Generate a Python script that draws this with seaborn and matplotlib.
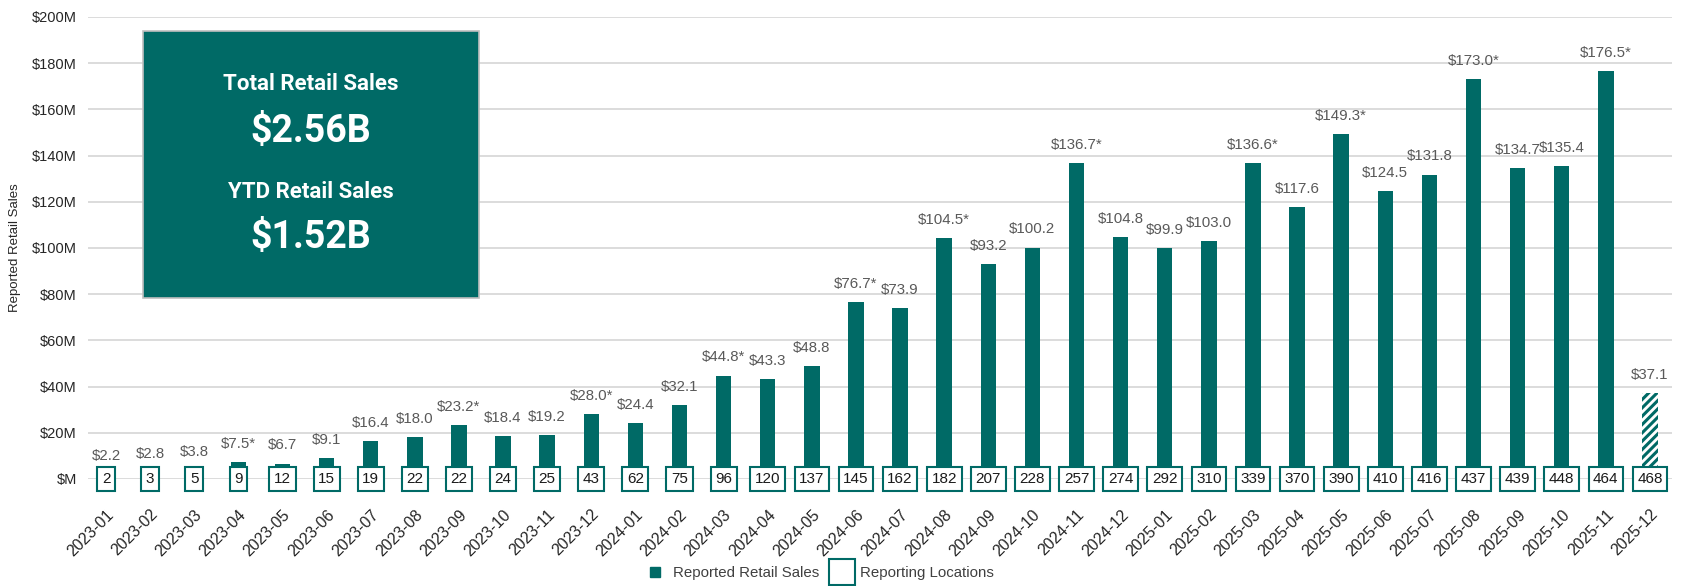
import matplotlib
matplotlib.use("Agg")
import matplotlib.pyplot as plt
import seaborn as sns
import pandas as pd
from matplotlib.lines import Line2D
from matplotlib.patches import Rectangle

months = ["2023-01", "2023-02", "2023-03", "2023-04", "2023-05", "2023-06",
          "2023-07", "2023-08", "2023-09", "2023-10", "2023-11", "2023-12",
          "2024-01", "2024-02", "2024-03", "2024-04", "2024-05", "2024-06",
          "2024-07", "2024-08", "2024-09", "2024-10", "2024-11", "2024-12",
          "2025-01", "2025-02", "2025-03", "2025-04", "2025-05", "2025-06",
          "2025-07", "2025-08", "2025-09", "2025-10", "2025-11", "2025-12"]
sales_m = [2.2, 2.8, 3.8, 7.5, 6.7, 9.1, 16.4, 18.0, 23.2, 18.4, 19.2, 28.0,
           24.4, 32.1, 44.8, 43.3, 48.8, 76.7, 73.9, 104.5, 93.2, 100.2, 136.7, 104.8,
           99.9, 103.0, 136.6, 117.6, 149.3, 124.5, 131.8, 173.0, 134.7, 135.4, 176.5, 37.1]
flagged = ["2023-04", "2023-09", "2023-12", "2024-03", "2024-06", "2024-08",
           "2024-11", "2025-03", "2025-05", "2025-08", "2025-11"]
locations = [2, 3, 5, 9, 12, 15, 19, 22, 22, 24, 25, 43, 62, 75, 96, 120, 137, 145,
             162, 182, 207, 228, 257, 274, 292, 310, 339, 370, 390, 410, 416, 437,
             439, 448, 464, 468]
partial_month = "2025-12"
y_ticks = [0, 20, 40, 60, 80, 100, 120, 140, 160, 180, 200]
summary_lines = ["Total Retail Sales", "$2.56B", "YTD Retail Sales", "$1.52B"]

TEAL = "#006A66"
GRID = "#D9D9D9"
LABEL_GRAY = "#595959"

sns.set_style("white")
plt.rcParams["font.family"] = ["Liberation Sans", "DejaVu Sans"]
plt.rcParams["hatch.linewidth"] = 2.2

df = pd.DataFrame({"month": months, "sales": sales_m, "locations": locations})

fig = plt.figure(figsize=(16.85, 5.86), dpi=100)
ax = fig.add_axes([0.0522, 0.1826, 0.9401, 0.7884])

sns.barplot(data=df, x="month", y="sales", color=TEAL, saturation=1,
            width=0.35, ax=ax, zorder=2)

for patch, m in zip(ax.patches, months):
    patch.set_linewidth(0)
    if m == partial_month:
        patch.set_facecolor("white")
        patch.set_edgecolor(TEAL)
        patch.set_hatch("////")

ax.set_ylim(0, 200)
ax.set_xlim(-0.41, len(months) - 0.5)
ax.set_yticks(y_ticks)
ax.set_yticklabels([f"${v}M" if v else "$M" for v in y_ticks], fontsize=10.5, color="#262626")
ax.yaxis.grid(True, color=GRID, linewidth=1.3, zorder=0)
ax.set_axisbelow(True)
for s in ax.spines.values():
    s.set_visible(False)
ax.tick_params(axis="y", length=0, pad=8)
ax.tick_params(axis="x", length=0, pad=20)
ax.set_xticks(range(len(months)))
ax.set_xticklabels(months, rotation=45, ha="right", rotation_mode="anchor",
                   fontsize=11.5, color="#262626")
ax.set_xlabel("")
ax.set_ylabel("Reported Retail Sales", fontsize=9.5, color="#262626", labelpad=8)

# value labels above bars
for i, (m, v) in enumerate(zip(months, sales_m)):
    txt = f"${v:.1f}" + ("*" if m in flagged else "")
    ax.annotate(txt, (i, v), xytext=(0, 13), textcoords="offset points",
                ha="center", va="center", fontsize=10.8, color=LABEL_GRAY, zorder=5)

# reporting location boxes on the zero line
for i, n in enumerate(locations):
    ax.text(i, 0, str(n), ha="center", va="center", fontsize=11, color="#1a1a1a",
            zorder=6, clip_on=False,
            bbox=dict(boxstyle="square,pad=0.3", facecolor="white",
                      edgecolor=TEAL, linewidth=1.5))

# summary box
box = Rectangle((143 / 1685, 1 - 298 / 586), (479 - 143) / 1685, (298 - 31) / 586,
                transform=fig.transFigure, facecolor=TEAL, edgecolor="#BFBFBF",
                linewidth=1.2, zorder=10)
fig.patches.append(box)
cx = 311 / 1685
ys = [84, 131, 192, 237]
sizes = [16, 27, 16, 27]
for t, yy, fs in zip(summary_lines, ys, sizes):
    fig.text(cx, 1 - yy / 586, t, ha="center", va="center", fontsize=fs,
             fontweight="bold", color="white", family=["Roboto", "DejaVu Sans"],
             zorder=11)

# legend
handles = [
    Line2D([0], [0], marker="s", linestyle="none", markersize=7,
           markerfacecolor=TEAL, markeredgecolor=TEAL),
    Line2D([0], [0], marker="s", linestyle="none", markersize=19,
           markerfacecolor="white", markeredgecolor=TEAL, markeredgewidth=1.5),
]
fig.legend(handles, ["Reported Retail Sales", "Reporting Locations"],
           loc="center", bbox_to_anchor=(0.485, 1 - 573 / 586), ncol=2, frameon=False,
           fontsize=10.8, handletextpad=0.25, columnspacing=0.6, handlelength=1.9,
           labelcolor="#404040")

fig.savefig("out.png", dpi=100)
